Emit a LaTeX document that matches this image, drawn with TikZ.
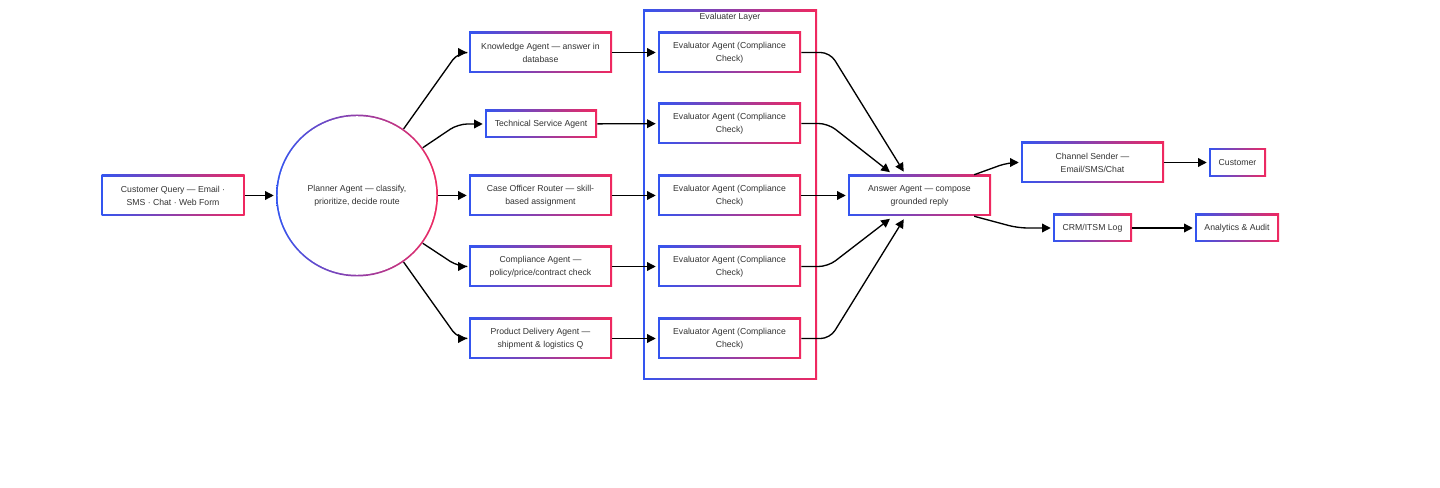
\documentclass[tikz,border=0pt]{standalone}
\usepackage{fontspec}
\setmainfont{Liberation Sans}
\usetikzlibrary{arrows.meta}

\definecolor{azul}{RGB}{51,85,240}
\definecolor{rosa}{RGB}{240,40,95}
\definecolor{texto}{RGB}{51,51,51}

\tikzset{
  caja/.style={rectangle, left color=azul, right color=rosa, inner sep=0pt,
    minimum width=107.25pt, minimum height=30.75pt, align=center, text=texto,
    font=\fontsize{6.5pt}{9.75pt}\selectfont,
    path picture={\fill[white] ([shift={(1.2pt,1.2pt)}]path picture bounding box.south west)
      rectangle ([shift={(-1.2pt,-1.2pt)}]path picture bounding box.north east);}},
  cajachica/.style={caja, minimum height=21pt},
  circulo/.style={circle, left color=azul, right color=rosa, inner sep=0pt,
    minimum size=121.5pt, align=center, text=texto,
    font=\fontsize{6.5pt}{9.75pt}\selectfont,
    path picture={\fill[white] (path picture bounding box.center) circle (59.45pt);}},
  flecha/.style={-{Triangle[length=6.5pt,width=6.5pt]}, line width=1pt,
    rounded corners=7pt, shorten >=1.5pt}
}

\begin{document}
\begin{tikzpicture}[x=0.75pt,y=-0.75pt]
        \useasboundingbox[fill=white] (0,0) rectangle (1440,488);

        %Capa de evaluadores
        \node[caja, minimum width=130.5pt, minimum height=277.5pt] (capa) at (730,195) {};
        \node[font=\fontsize{6.5pt}{9.75pt}\selectfont, text=texto] (titulo) at (730,17.5) {Evaluater Layer};

        %Entrada y planificador
        \node[caja] (consulta) at (173,195.5) {Customer Query — Email ·\\SMS · Chat · Web Form};
        \node[circulo] (planner) at (357,195.5) {Planner Agent — classify,\\prioritize, decide route};

        %Agentes especializados
        \node[caja] (knowledge) at (540.5,52.5) {Knowledge Agent — answer in\\database};
        \node[cajachica, minimum width=84pt] (tecnico) at (541,124) {Technical Service Agent};
        \node[caja] (router) at (540.5,195.5) {Case Officer Router — skill-\\based assignment};
        \node[caja] (compliance) at (540.5,266.5) {Compliance Agent —\\policy/price/contract check};
        \node[caja] (delivery) at (540.5,338.5) {Product Delivery Agent —\\shipment \& logistics Q};

        %Evaluadores
        \node[caja] (eval1) at (729.5,52.5) {Evaluator Agent (Compliance\\Check)};
        \node[caja] (eval2) at (729.5,123.5) {Evaluator Agent (Compliance\\Check)};
        \node[caja] (eval3) at (729.5,195.5) {Evaluator Agent (Compliance\\Check)};
        \node[caja] (eval4) at (729.5,266.5) {Evaluator Agent (Compliance\\Check)};
        \node[caja] (eval5) at (729.5,338.5) {Evaluator Agent (Compliance\\Check)};

        %Respuesta y salida
        \node[caja] (answer) at (919.5,195.5) {Answer Agent — compose\\grounded reply};
        \node[caja] (canal) at (1092.5,162.5) {Channel Sender —\\Email/SMS/Chat};
        \node[cajachica, minimum width=42.75pt] (cliente) at (1237.5,162.5) {Customer};
        \node[cajachica, minimum width=59.25pt] (crm) at (1092.5,228) {CRM/ITSM Log};
        \node[cajachica, minimum width=63pt] (analytics) at (1237,228) {Analytics \& Audit};

        %Flechas del planificador
        \draw[flecha] (consulta) -- (planner);
        \draw[flecha] (planner.55) -- (458,52.5) -- (knowledge.west);
        \draw[flecha] (planner.36.6) -- (458,124) -- (tecnico.west);
        \draw[flecha] (planner) -- (router);
        \draw[flecha] (planner.-36.6) -- (458,266.5) -- (compliance.west);
        \draw[flecha] (planner.-55) -- (458,338.5) -- (delivery.west);

        %Flechas hacia los evaluadores
        \draw[flecha] (knowledge) -- (eval1);
        \draw[flecha] (tecnico) -- (eval2);
        \draw[flecha] (router) -- (eval3);
        \draw[flecha] (compliance) -- (eval4);
        \draw[flecha] (delivery) -- (eval5);

        %Flechas hacia la respuesta
        \draw[flecha] (eval1.east) -- (830,52.5) -- ([xshift=-11pt,yshift=1pt]answer.north);
        \draw[flecha] (eval2.east) -- (828,123.5) -- ([xshift=-21pt,yshift=1pt]answer.north);
        \draw[flecha] (eval3) -- (answer);
        \draw[flecha] (eval4.east) -- (828,266.5) -- ([xshift=-21pt,yshift=-1pt]answer.south);
        \draw[flecha] (eval5.east) -- (830,338.5) -- ([xshift=-11pt,yshift=-1pt]answer.south);

        %Salidas
        \draw[flecha] ([xshift=41pt]answer.north) -- (1008,162.5) -- (canal.west);
        \draw[flecha] ([xshift=41pt]answer.south) -- (1018,228) -- (crm.west);
        \draw[flecha] (canal) -- (cliente);
        \draw[flecha] (crm) -- (analytics);
\end{tikzpicture}
\end{document}
